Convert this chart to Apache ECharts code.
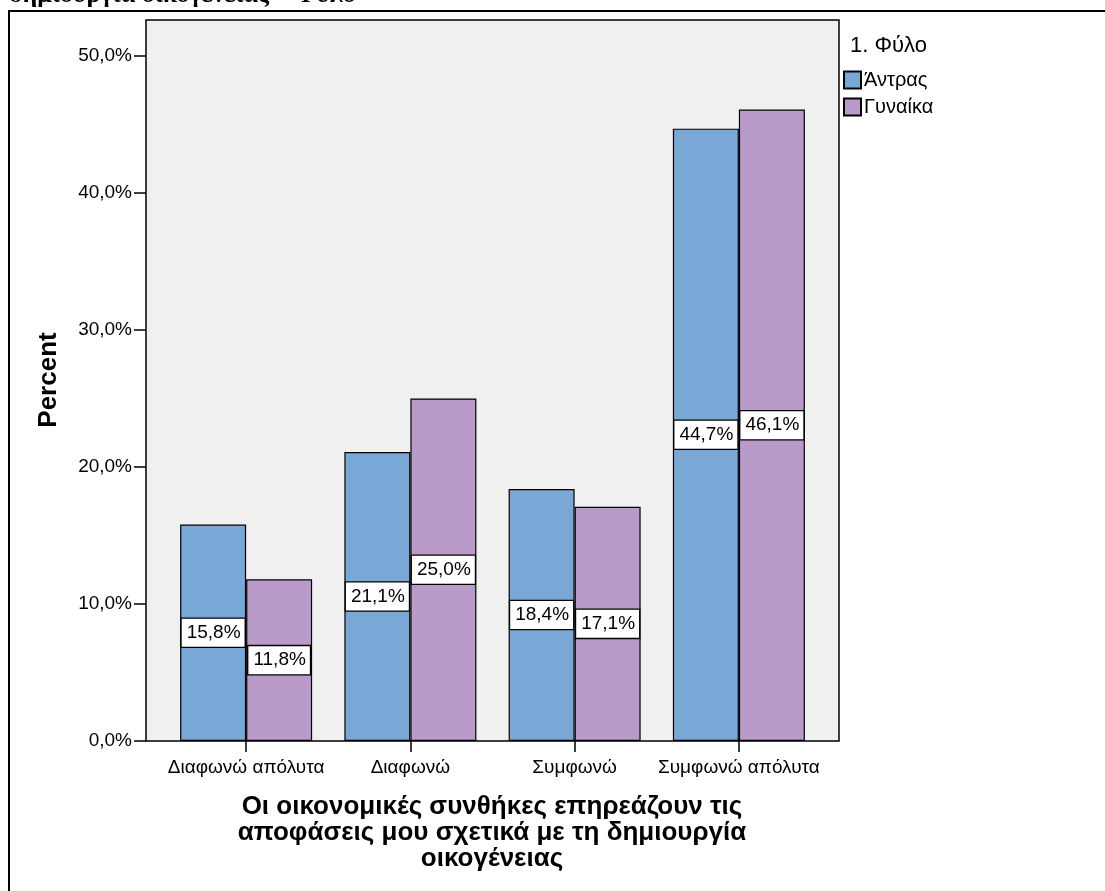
<!DOCTYPE html>
<html>
<head>
<meta charset="utf-8">
<script src="https://cdn.jsdelivr.net/npm/echarts@6/dist/echarts.min.js"></script>
<style>html,body{margin:0;padding:0;background:#fff}#c{width:1105px;height:891px}</style>
</head>
<body>
<div id="c"></div>
<script>
const categories = ['Διαφωνώ απόλυτα', 'Διαφωνώ', 'Συμφωνώ', 'Συμφωνώ απόλυτα'];
const seriesNames = ['Άντρας', 'Γυναίκα'];
const menValues = [15.8, 21.1, 18.4, 44.7];
const womenValues = [11.8, 25.0, 17.1, 46.1];
const yTicks = [0, 10, 20, 30, 40, 50];
const legendTitle = '1. Φύλο';
const xTitle = 'Οι οικονομικές συνθήκες επηρεάζουν τις\nαποφάσεις μου σχετικά με τη δημιουργία\nοικογένειας';
const yTitle = 'Percent';
const topTitle = 'δημιουργία οικογένειας * Φύλο';

const FONT = 'Arial, "Liberation Sans", sans-serif';
const fmt = v => v.toFixed(1).replace('.', ',') + '%';
const colors = ['#7aa8d6', '#b99bc9'];
const YMAX = 52.63;

const chart = echarts.init(document.getElementById('c'));
const labelStyle = {
  show: true, position: 'inside', color: '#000', fontFamily: FONT, fontSize: 19,
  backgroundColor: '#fff', borderColor: '#000', borderWidth: 1.3, padding: [5, 4, 4, 5],
  formatter: p => fmt(p.value)
};
chart.setOption({
  animation: false,
  grid: [
    { left: 146, top: 20, width: 693, height: 721, show: true, backgroundColor: '#f0f0f0', borderColor: '#000', borderWidth: 1.5, z: 0 },
    { left: 164, top: 20, width: 657, height: 721 }
  ],
  xAxis: [
    { gridIndex: 0, type: 'value', min: 0, max: 1, show: false },
    { gridIndex: 1, type: 'category', data: categories,
      axisLine: { show: false },
      axisTick: { show: true, alignWithLabel: true, length: 11, lineStyle: { color: '#000', width: 1.5 } },
      axisLabel: { color: '#000', fontFamily: FONT, fontSize: 19, margin: 17, interval: 0 } }
  ],
  yAxis: [
    { gridIndex: 0, type: 'value', min: 0, max: YMAX, interval: 10,
      axisLine: { show: false },
      splitLine: { show: false },
      axisTick: { show: true, length: 12, customValues: yTicks, lineStyle: { color: '#000', width: 1.5 } },
      axisLabel: { color: '#000', fontFamily: FONT, fontSize: 19, margin: 14, customValues: yTicks,
        formatter: v => (yTicks.indexOf(v) >= 0 ? fmt(v) : '') } },
    { gridIndex: 1, type: 'value', min: 0, max: YMAX, show: false }
  ],
  legend: {
    orient: 'vertical', left: 843, top: 70, padding: 0, itemWidth: 17, itemHeight: 17, itemGap: 7,
    icon: 'rect', textStyle: { color: '#000', fontFamily: FONT, fontSize: 20, padding: [0, 0, 0, -2] },
    data: seriesNames
  },
  series: [
    { name: seriesNames[0], type: 'bar', xAxisIndex: 1, yAxisIndex: 1, data: menValues,
      barWidth: 66, barGap: '0%',
      itemStyle: { color: colors[0], borderColor: '#000', borderWidth: 1.2 }, label: labelStyle },
    { name: seriesNames[1], type: 'bar', xAxisIndex: 1, yAxisIndex: 1, data: womenValues,
      barWidth: 66, barGap: '0%',
      itemStyle: { color: colors[1], borderColor: '#000', borderWidth: 1.2 }, label: labelStyle }
  ],
  graphic: [
    { type: 'rect', shape: { x: 9, y: 11, width: 1110, height: 900 }, style: { fill: 'none', stroke: '#000', lineWidth: 2 }, z: 100 },
    { type: 'text', x: 9, y: 8, style: { text: topTitle, font: 'bold 26px "Liberation Serif", "Times New Roman", serif', fill: '#000', textVerticalAlign: 'bottom' } },
    { type: 'text', x: 850, y: 46, style: { text: legendTitle, font: '22px ' + FONT, fill: '#000', textVerticalAlign: 'middle' } },
    { type: 'text', x: 49, y: 380, rotation: Math.PI / 2, style: { text: yTitle, font: 'bold 26px ' + FONT, fill: '#000', textAlign: 'center', textVerticalAlign: 'middle' } },
    { type: 'text', x: 492, y: 794, style: { text: xTitle, font: 'bold 26px ' + FONT, lineHeight: 26, fill: '#000', textAlign: 'center', textVerticalAlign: 'top' } }
  ]
});
</script>
</body>
</html>
